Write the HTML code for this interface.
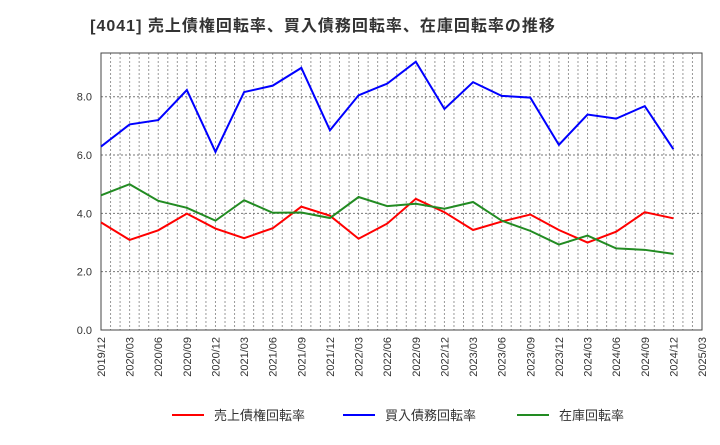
<!DOCTYPE html>
<html><head><meta charset="utf-8"><style>
body{margin:0;background:#fff;font-family:"Liberation Sans","Noto Sans CJK JP",sans-serif;}
</style></head><body>
<svg id="c" width="720" height="440" xmlns="http://www.w3.org/2000/svg" font-family="Liberation Sans, Noto Sans CJK JP, sans-serif">
<text x="323" y="31" text-anchor="middle" font-size="16" letter-spacing="1" font-weight="bold" fill="#333">[4041]  売上債権回転率、買入債務回転率、在庫回転率の推移</text>
<g id="grid"></g><g id="axes"></g><g id="series"></g><g id="legend"></g>
</svg>
<script>
const xLabels=["2019/12","2020/03","2020/06","2020/09","2020/12","2021/03","2021/06","2021/09","2021/12","2022/03","2022/06","2022/09","2022/12","2023/03","2023/06","2023/09","2023/12","2024/03","2024/06","2024/09","2024/12","2025/03"];
const yTicks=[0,2,4,6,8];
const receivables=[3.69,3.09,3.42,3.99,3.48,3.15,3.49,4.23,3.92,3.13,3.65,4.5,4.04,3.43,3.72,3.96,3.43,3.0,3.37,4.04,3.83];
const payables=[6.29,7.05,7.2,8.23,6.11,8.16,8.38,8.99,6.85,8.05,8.45,9.2,7.58,8.5,8.03,7.97,6.35,7.39,7.25,7.68,6.2];
const inventory=[4.62,5.0,4.43,4.19,3.75,4.45,4.02,4.03,3.84,4.56,4.25,4.33,4.16,4.39,3.75,3.4,2.93,3.24,2.8,2.75,2.61];
const L=101,R=702,T=53,B=330,ymax=9.5;
const NS="http://www.w3.org/2000/svg";
const x=i=>L+(R-L)*i/(xLabels.length-1);
const y=v=>B-(B-T)*v/ymax;
function mk(tag,attrs,parent){const e=document.createElementNS(NS,tag);for(const k in attrs)e.setAttribute(k,attrs[k]);parent.appendChild(e);return e;}
const grid=document.getElementById('grid'),axes=document.getElementById('axes'),ser=document.getElementById('series'),leg=document.getElementById('legend');
for(let m=1;m<(xLabels.length-1)*3;m++){const xx=L+(R-L)*m/((xLabels.length-1)*3);
 const g=mk('line',{x1:xx,x2:xx,y1:T,y2:B,stroke:'#999','stroke-width':1,'stroke-dasharray':'2,2'},grid);
 
 }
yTicks.forEach(v=>{if(v>0){const g=mk('line',{x1:L,x2:R,y1:y(v),y2:y(v),stroke:'#777','stroke-width':1,'stroke-dasharray':'2,2'},grid);
 
 }
 const t=mk('text',{x:L-9,y:y(v)+4,'text-anchor':'end','font-size':11,fill:'#333'},axes);t.textContent=v.toFixed(1);
 
 });
xLabels.forEach((s,i)=>{const t=mk('text',{transform:`translate(${x(i)+4},337) rotate(-90)`,'text-anchor':'end','font-size':11,fill:'#333'},axes);t.textContent=s;
 
 });
const fr=mk('rect',{x:L,y:T,width:R-L,height:B-T,fill:'none',stroke:'#444','stroke-width':1},axes);


const S=[["売上債権回転率",receivables,"#ff0000","receivables-line"],["買入債務回転率",payables,"#0000ff","payables-line"],["在庫回転率",inventory,"#228b22","inventory-line"]];
S.forEach(([n,d,c,id])=>{const p=mk('polyline',{points:d.map((v,i)=>x(i)+','+y(v)).join(' '),fill:'none',stroke:c,'stroke-width':2},ser);
 
 });
const lx=[172,343,517];
S.forEach(([n,d,c,id],k)=>{const g=mk('g',{},leg);
 
 
 mk('line',{x1:lx[k],x2:lx[k]+32,y1:415,y2:415,stroke:c,'stroke-width':2},g);
 const t=mk('text',{x:lx[k]+42,y:420,'font-size':13,fill:'#333'},g);t.textContent=n;});
</script>
</body></html>
